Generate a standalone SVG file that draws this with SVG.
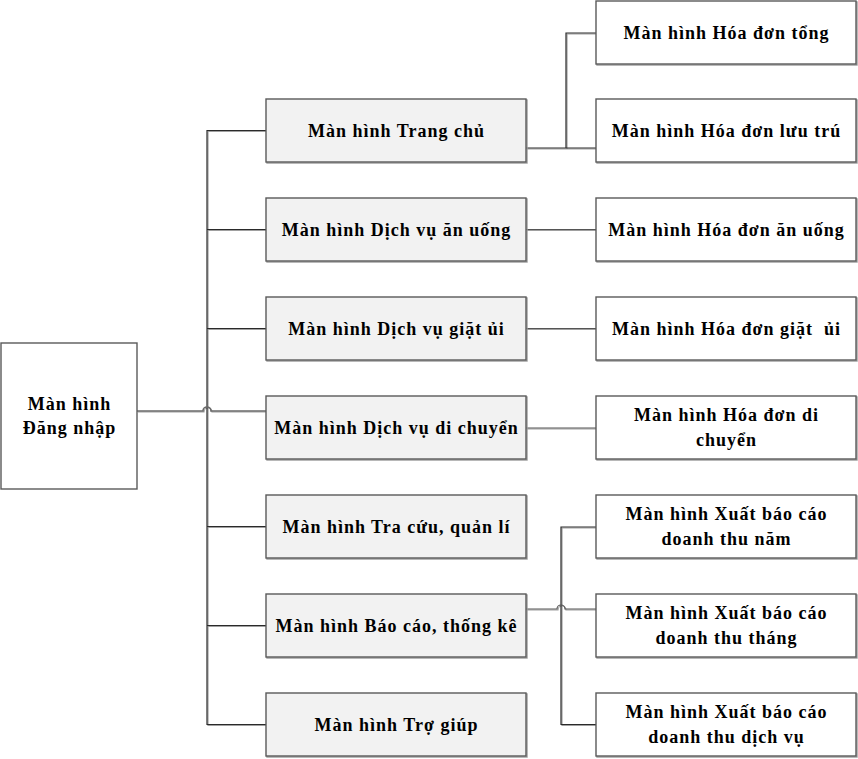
<svg xmlns="http://www.w3.org/2000/svg" width="858" height="759" viewBox="0 0 858 759">
<defs>
<style>
.box{stroke:#5a5a5a;stroke-width:1.4}
.shadow{fill:none;stroke:#9a9a9a;stroke-width:1.4}
.mid{fill:#f2f2f2}
.wht{fill:#ffffff}
text{font-family:"Liberation Serif","Times New Roman",serif;font-weight:bold;font-size:18px;letter-spacing:1px;fill:#000;text-anchor:middle;white-space:pre}
.ln{fill:none;stroke:#2a2a2a;stroke-width:1.2}
.lns{fill:none;stroke:#a0a0a0;stroke-width:1.2}
</style>
</defs>
<rect width="858" height="759" fill="#ffffff"/>
<g id="connectors">
<g transform="translate(1,1)">
<path class="lns" d="M266,130.5 H207 V724.5 H266 M207,229.5 H266 M207,328.5 H266 M207,526.5 H266 M207,625.5 H266"/>
<path class="lns" d="M137,411 H203 A4,4 0 0 1 211,411 H266"/>
<path class="lns" d="M526,148 H596 M566,148 V33 H596"/>
<path class="lns" d="M526,229.5 H596 M526,328.5 H596 M526,428 H596"/>
<path class="lns" d="M596,527 H561 V724.5 H596"/>
<path class="lns" d="M526,609 H557 A4,4 0 0 1 565,609 H596"/>
</g>
<path class="ln" d="M266,130.5 H207 V724.5 H266 M207,229.5 H266 M207,328.5 H266 M207,526.5 H266 M207,625.5 H266"/>
<path class="ln" style="stroke:#6a6a6a;stroke-width:1.6" d="M137,411 H203 A4,4 0 0 1 211,411 H266"/>
<path class="ln" d="M526,148 H596 M566,148 V33 H596"/>
<path class="ln" style="stroke:#555" d="M526,229.5 H596 M526,328.5 H596 M526,428 H596"/>
<path class="ln" d="M596,527 H561 V724.5 H596"/>
<path class="ln" style="stroke:#555" d="M526,609 H557 A4,4 0 0 1 565,609 H596"/>
</g>
<g id="n-dangnhap">
<rect class="box wht" x="1" y="343" width="136" height="146"/>
<text x="69.5" y="410">Màn hình</text>
<text x="69.5" y="434">Đăng nhập</text>
</g>
<g id="n-trangchu">
<rect class="shadow" x="267" y="100" width="260" height="63"/>
<rect class="box mid" x="266" y="99" width="260" height="63"/>
<text x="396.5" y="137">Màn hình Trang chủ</text>
</g>
<g id="n-anuong">
<rect class="shadow" x="267" y="199" width="260" height="63"/>
<rect class="box mid" x="266" y="198" width="260" height="63"/>
<text x="396.5" y="236">Màn hình Dịch vụ ăn uống</text>
</g>
<g id="n-giatui">
<rect class="shadow" x="267" y="298" width="260" height="63"/>
<rect class="box mid" x="266" y="297" width="260" height="63"/>
<text x="396.5" y="335">Màn hình Dịch vụ giặt ủi</text>
</g>
<g id="n-dichuyen">
<rect class="shadow" x="267" y="397" width="260" height="63"/>
<rect class="box mid" x="266" y="396" width="260" height="63"/>
<text x="396.5" y="434">Màn hình Dịch vụ di chuyển</text>
</g>
<g id="n-tracuu">
<rect class="shadow" x="267" y="496" width="260" height="63"/>
<rect class="box mid" x="266" y="495" width="260" height="63"/>
<text x="396.5" y="533">Màn hình Tra cứu, quản lí</text>
</g>
<g id="n-baocao">
<rect class="shadow" x="267" y="595" width="260" height="63"/>
<rect class="box mid" x="266" y="594" width="260" height="63"/>
<text x="396.5" y="632">Màn hình Báo cáo, thống kê</text>
</g>
<g id="n-trogiup">
<rect class="shadow" x="267" y="694" width="260" height="63"/>
<rect class="box mid" x="266" y="693" width="260" height="63"/>
<text x="396.5" y="731">Màn hình Trợ giúp</text>
</g>
<g id="n-hdtong">
<rect class="shadow" x="597" y="2" width="260" height="63"/>
<rect class="box wht" x="596" y="1" width="260" height="63"/>
<text x="726.5" y="39">Màn hình Hóa đơn tổng</text>
</g>
<g id="n-hdluutru">
<rect class="shadow" x="597" y="100" width="260" height="63"/>
<rect class="box wht" x="596" y="99" width="260" height="63"/>
<text x="726.5" y="137">Màn hình Hóa đơn lưu trú</text>
</g>
<g id="n-hdanuong">
<rect class="shadow" x="597" y="199" width="260" height="63"/>
<rect class="box wht" x="596" y="198" width="260" height="63"/>
<text x="726.5" y="236">Màn hình Hóa đơn ăn uống</text>
</g>
<g id="n-hdgiatui">
<rect class="shadow" x="597" y="298" width="260" height="63"/>
<rect class="box wht" x="596" y="297" width="260" height="63"/>
<text x="726.5" y="335">Màn hình Hóa đơn giặt  ủi</text>
</g>
<g id="n-hddichuyen">
<rect class="shadow" x="597" y="397" width="260" height="63"/>
<rect class="box wht" x="596" y="396" width="260" height="63"/>
<text x="726.5" y="421">Màn hình Hóa đơn di</text>
<text x="726.5" y="446">chuyển</text>
</g>
<g id="n-bcnam">
<rect class="shadow" x="597" y="496" width="260" height="63"/>
<rect class="box wht" x="596" y="495" width="260" height="63"/>
<text x="726.5" y="520">Màn hình Xuất báo cáo</text>
<text x="726.5" y="545">doanh thu năm</text>
</g>
<g id="n-bcthang">
<rect class="shadow" x="597" y="595" width="260" height="63"/>
<rect class="box wht" x="596" y="594" width="260" height="63"/>
<text x="726.5" y="619">Màn hình Xuất báo cáo</text>
<text x="726.5" y="644">doanh thu tháng</text>
</g>
<g id="n-bcdichvu">
<rect class="shadow" x="597" y="694" width="260" height="63"/>
<rect class="box wht" x="596" y="693" width="260" height="63"/>
<text x="726.5" y="718">Màn hình Xuất báo cáo</text>
<text x="726.5" y="743">doanh thu dịch vụ</text>
</g>
</svg>
